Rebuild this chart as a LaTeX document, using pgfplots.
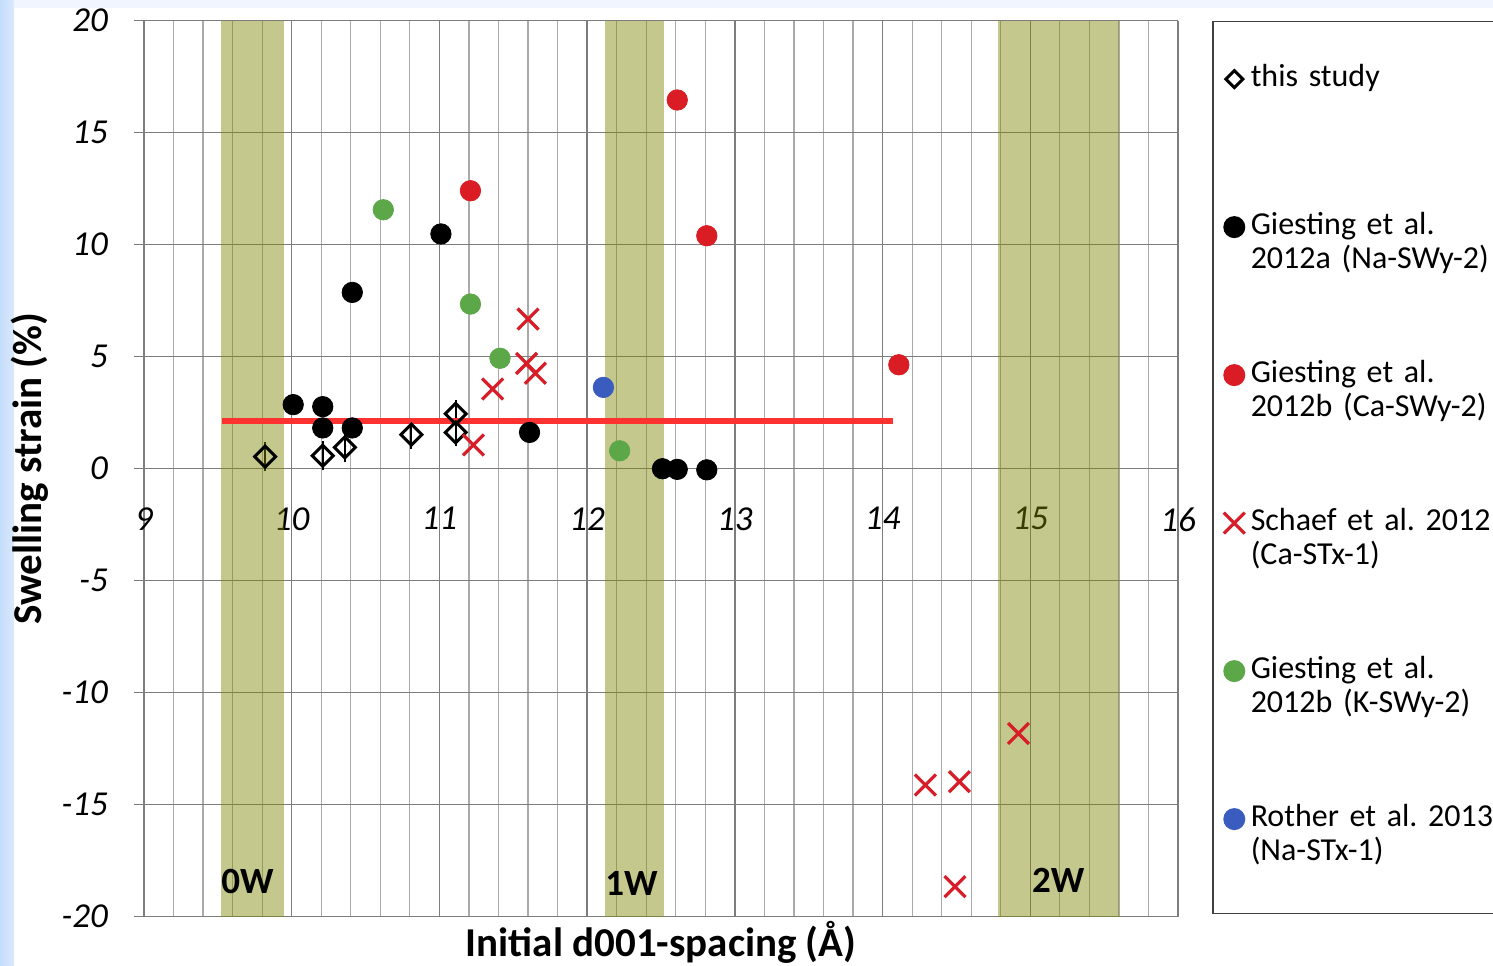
\documentclass[border=0pt]{standalone}
\usepackage{pgfplots}
\pgfplotsset{compat=1.18}
\usepackage{fontspec}
\setmainfont{Carlito}
\frenchspacing
\definecolor{bandol}{RGB}{126,135,0}
\definecolor{gridmaj}{RGB}{125,125,125}
\definecolor{gridmin}{RGB}{170,170,170}
\definecolor{cred}{RGB}{218,28,36}
\definecolor{xred}{RGB}{215,30,40}
\definecolor{cgreen}{RGB}{92,168,72}
\definecolor{cblue}{RGB}{58,92,190}
\definecolor{lred}{RGB}{255,50,50}
\definecolor{bgblue}{RGB}{240,245,255}
\definecolor{stripblue}{RGB}{195,220,250}
\begin{document}
\begin{tikzpicture}
\useasboundingbox (0,0) rectangle (746.5pt,482.5pt);
\fill[bgblue] (0,0) rectangle (746.5pt,482.5pt);
\fill[white] (7pt,0) rectangle (746.5pt,478.5pt);
\shade[left color=stripblue, right color=stripblue!60!white] (0,0) rectangle (7pt,482.5pt);
\begin{axis}[
  at={(72pt,24.15pt)}, anchor=south west,
  scale only axis, width=517pt, height=448pt,
  xmin=9, xmax=16, ymin=-20, ymax=20,
  xtick={9,...,16}, ytick={-20,-15,...,20},
  minor x tick num=4,
  xmajorgrids, xminorgrids, ymajorgrids,
  major grid style={draw=gridmaj, line width=0.7pt},
  minor grid style={draw=gridmin, line width=0.6pt},
  axis line style={draw=none},
  tick pos=left, tick align=outside,
  major tick length=5pt, minor tick length=0pt,
  xtick style={draw=none}, ytick style={draw=gridmaj, line width=0.7pt},
  /pgf/number format/assume math mode=true,
  tick label style={font=\fontsize{17.5}{20}\selectfont\itshape},
  xticklabel style={anchor=north, yshift=213.2pt},
  yticklabel style={anchor=east, xshift=-9.5pt},
  xlabel={Initial d001-spacing (Å)},
  ylabel={Swelling strain (\%)},
  label style={font=\fontsize{20.5}{24}\selectfont\bfseries},
  xlabel style={at={(axis description cs:0.500,-0.0439)}, anchor=base},
  ylabel style={at={(axis description cs:-0.1103,0.5)}, anchor=center},
  legend image code/.code={\draw[#1] plot coordinates {(0pt,3.7pt)};},
  legend style={at={(axis description cs:1.0329,1)}, anchor=north west,
    draw=black!75, line width=0.8pt, fill=white,
    inner xsep=5.5pt, inner ysep=1pt, row sep=0pt, column sep=3pt,
    font=\fontsize{16}{17}\selectfont,
    nodes={anchor=base west, text height=31.5pt, text depth=42.5pt,
      inner sep=0pt, text width=130pt, align=left}},
]
% this study
\addplot[only marks, mark=square, mark size=3.7pt,
  mark options={rotate=45, line width=1.5pt, draw=black, fill=none},
  legend image post style={mark size=3pt, line width=1.3pt},
  error bars/.cd, y dir=both, y explicit,
  error bar style={line width=1pt, black},
  error mark options={line width=1pt, mark size=2.2pt}]
  coordinates {
  (9.82,0.54) +- (0,0.45)
  (10.21,0.58) +- (0,0.45)
  (10.36,0.95) +- (0,0.45)
  (10.81,1.52) +- (0,0.45)
  (11.11,2.45) +- (0,0.4)
  (11.11,1.62) +- (0,0.4)
  };
% Giesting 2012a Na-SWy-2
\addplot[only marks, mark=*, mark size=5.1pt, mark options={draw=black, fill=black}]
  coordinates {
  (10.01,2.86) (10.21,2.77) (10.21,1.82) (10.41,1.82) (10.41,7.87)
  (11.01,10.48) (11.61,1.62) (12.51,0.0) (12.61,-0.03) (12.81,-0.05)
  };
% Giesting 2012b Ca-SWy-2
\addplot[only marks, mark=*, mark size=5.1pt, mark options={draw=cred, fill=cred}]
  coordinates {
  (11.21,12.41) (12.61,16.46) (12.81,10.40) (14.11,4.64)
  };
% Schaef 2012 Ca-STx-1
\addplot[only marks, mark=x, mark size=7.4pt, mark options={draw=xred, line width=1.6pt}]
  coordinates {
  (11.60,6.68) (11.59,4.70) (11.65,4.26) (11.36,3.56) (11.23,1.06)
  (14.92,-11.82) (14.29,-14.12) (14.52,-13.97) (14.49,-18.66)
  };
% Giesting 2012b K-SWy-2
\addplot[only marks, mark=*, mark size=5.1pt, mark options={draw=cgreen, fill=cgreen}]
  coordinates {
  (10.62,11.56) (11.21,7.35) (11.41,4.93) (12.22,0.80)
  };
% Rother 2013 Na-STx-1
\addplot[only marks, mark=*, mark size=5.1pt, mark options={draw=cblue, fill=cblue}]
  coordinates {
  (12.11,3.63)
  };
% hydration bands
\addplot[forget plot, draw=none, fill=bandol, fill opacity=0.45]
  coordinates {(9.52,-20) (9.95,-20) (9.95,20) (9.52,20)} -- cycle;
\addplot[forget plot, draw=none, fill=bandol, fill opacity=0.45]
  coordinates {(12.12,-20) (12.52,-20) (12.52,20) (12.12,20)} -- cycle;
\addplot[forget plot, draw=none, fill=bandol, fill opacity=0.45]
  coordinates {(14.78,-20) (15.60,-20) (15.60,20) (14.78,20)} -- cycle;
% mean line
\addplot[forget plot, lred, line width=2.8pt]
  coordinates {(9.53,2.13) (14.07,2.13)};
\node[font=\fontsize{18.5}{20}\selectfont\bfseries] at (axis cs:9.70,-18.45) {0W};
\node[font=\fontsize{18.5}{20}\selectfont\bfseries] at (axis cs:12.30,-18.5) {1W};
\node[font=\fontsize{18.5}{20}\selectfont\bfseries] at (axis cs:15.19,-18.36) {2W};
\legend{this study,
  {Giesting et al.\\2012a (Na-SWy-2)},
  {Giesting et al.\\2012b (Ca-SWy-2)},
  {Schaef et al. 2012\\(Ca-STx-1)},
  {Giesting et al.\\2012b (K-SWy-2)},
  {Rother et al. 2013\\(Na-STx-1)}}
\end{axis}
\end{tikzpicture}
\end{document}
